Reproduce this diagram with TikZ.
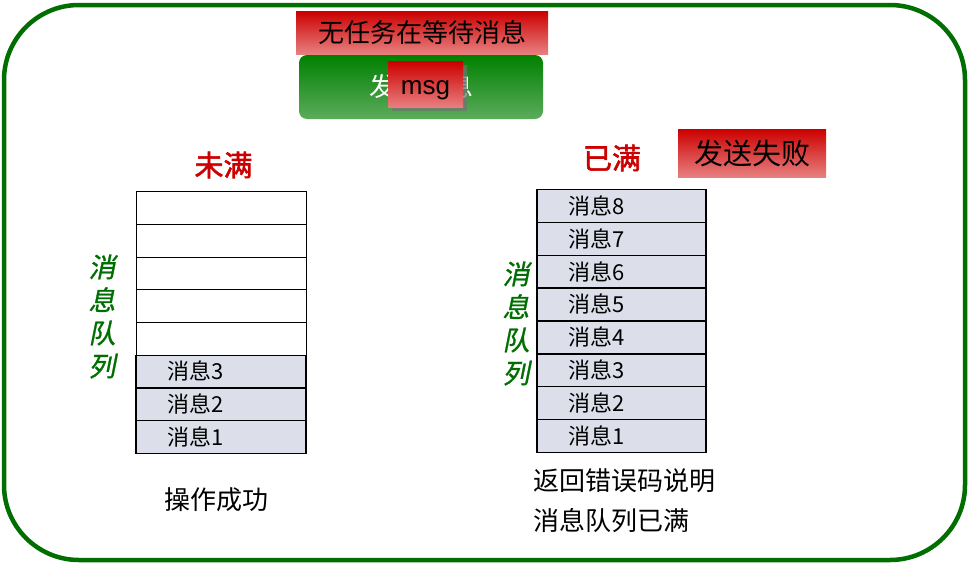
\documentclass[tikz,border=0pt]{standalone}
\usepackage{fontspec}
\setmainfont{Noto Sans CJK SC}
\newfontfamily\latinsans{Liberation Sans}
\newfontfamily\slantcjk[FakeSlant=0.2,FakeBold=1]{Noto Sans CJK SC}
\newfontfamily\boldcjk[FakeBold=2]{Noto Sans CJK SC}
\usetikzlibrary{positioning,shadows}
\definecolor{framegreen}{RGB}{0,110,0}
\definecolor{redtop}{RGB}{204,0,0}
\definecolor{redbot}{RGB}{232,128,128}
\definecolor{greentop}{RGB}{0,128,0}
\definecolor{greenbot}{RGB}{92,172,92}
\definecolor{cellfill}{RGB}{220,223,234}
\definecolor{hdrred}{RGB}{204,0,0}
\newcommand\fsz[1]{\fontsize{#1}{#1}\selectfont}
\newcommand\xiaoxi[1]{\hspace*{31pt}消息#1}

\begin{document}
\begin{tikzpicture}[x=1pt,y=-1pt,
    redbox/.style={top color=redtop,bottom color=redbot,inner sep=0pt},
    greenbox/.style={top color=greentop,bottom color=greenbot,rounded corners=8pt,
                     text=white,inner sep=0pt},
    cell/.style={draw,line width=0.9pt,minimum height=32.7pt,text width=170pt,
                 inner sep=0pt,outer sep=0pt,align=left,font=\fsz{22}},
    rcell/.style={cell,text width=169pt,minimum height=32.9pt},
    full/.style={fill=cellfill,line width=1.3pt},
    header/.style={text=hdrred,font=\boldcjk\fsz{29}},
    queuelabel/.style={text=framegreen,align=center,
                       font=\slantcjk\fontsize{27}{33}\selectfont}]
	\useasboundingbox (0,0) rectangle (969,565);
	\draw[framegreen,line width=4.5pt,rounded corners=75pt] (4,5) rectangle (965,560);

	% top: waiting task and send button
	\node[redbox,minimum width=252pt,minimum height=43pt,font=\fsz{26}]
	      (wait) at (422,32.7) {无任务在等待消息};
	\node[greenbox,minimum width=244pt,minimum height=64pt,font=\fsz{26}]
	      (send) at (421,87) {发送消息};
	\node[redbox,minimum width=75pt,minimum height=46pt,font=\latinsans\fsz{26},
	      drop shadow={shadow xshift=3.5pt,shadow yshift=-3.5pt,fill=black!55,opacity=0.7}]
	      (msg) at (425.5,84.7) {\raisebox{-10pt}[0pt][0pt]{msg}};

	% left queue (not full)
	\node[header]	(notfull)	at (223.5,165)	{未满};
	\node[cell]		(l8)	at (221,208)	{};
	\node[cell]		(l7)	[below=0pt of l8]	{};
	\node[cell]		(l6)	[below=0pt of l7]	{};
	\node[cell]		(l5)	[below=0pt of l6]	{};
	\node[cell]		(l4)	[below=0pt of l5]	{};
	\node[cell,full]	(l3)	[below=0pt of l4]	{\xiaoxi{3}};
	\node[cell,full]	(l2)	[below=0pt of l3]	{\xiaoxi{2}};
	\node[cell,full]	(l1)	[below=0pt of l2]	{\xiaoxi{1}};
	\node[queuelabel]	(lq)	at (102,316.5)	{消\\息\\队\\列};
	\node[font=\fsz{26}]	(ok)	at (216,500)	{操作成功};

	% right queue (full)
	\node[header]	(isfull)	at (612,158)	{已满};
	\node[redbox,minimum width=148pt,minimum height=48pt,font=\fsz{29}]
	      (fail) at (752,153.3) {发送失败};
	\node[rcell,full]	(r8)	at (621.5,205.8)	{\xiaoxi{8}};
	\node[rcell,full]	(r7)	[below=0pt of r8]	{\xiaoxi{7}};
	\node[rcell,full]	(r6)	[below=0pt of r7]	{\xiaoxi{6}};
	\node[rcell,full]	(r5)	[below=0pt of r6]	{\xiaoxi{5}};
	\node[rcell,full]	(r4)	[below=0pt of r5]	{\xiaoxi{4}};
	\node[rcell,full]	(r3)	[below=0pt of r4]	{\xiaoxi{3}};
	\node[rcell,full]	(r2)	[below=0pt of r3]	{\xiaoxi{2}};
	\node[rcell,full]	(r1)	[below=0pt of r2]	{\xiaoxi{1}};
	\node[queuelabel]	(rq)	at (516,323.5)	{消\\息\\队\\列};
	\node[font=\fontsize{26}{40}\selectfont,align=left,anchor=west]
	      (err) at (530,501) {返回错误码说明\\消息队列已满};
\end{tikzpicture}
\end{document}
